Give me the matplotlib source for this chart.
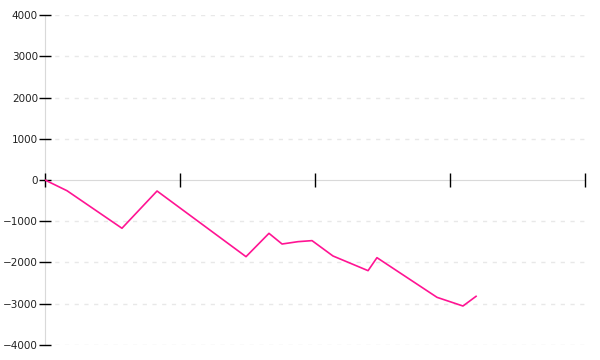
import numpy as np
import matplotlib
matplotlib.use('Agg')
import matplotlib.pyplot as plt

# series (x in tick units, y values)
x_vals = [0.0, 0.163, 0.570, 0.830, 1.489, 1.659, 1.756, 1.874, 1.978,
          2.133, 2.393, 2.459, 2.904, 3.096, 3.193]
y_vals = [0, -260, -1170, -267, -1859, -1293, -1552, -1495, -1470,
          -1842, -2198, -1883, -2845, -3055, -2820]
y_ticks = [-4000, -3000, -2000, -1000, 0, 1000, 2000, 3000, 4000]
x_ticks = [0, 1, 2, 3, 4]

fig = plt.figure(figsize=(6, 3.6), dpi=100)
ax = fig.add_axes([0.075, 0.0417, 0.9, 0.9166])

# dashed horizontal grid
for yv in y_ticks:
    if yv != 0:
        ax.axhline(yv, color='#e8e8e8', lw=1, ls=(0, (3, 4)), zorder=0)

ax.plot(x_vals, y_vals, color='#ff1493', lw=1.2, zorder=3)

ax.set_xlim(0, 4)
ax.set_ylim(-4000, 4000)
ax.set_yticks(y_ticks)
ax.set_yticklabels([str(v).replace('-', '\u2212') for v in y_ticks])
ax.set_xticks(x_ticks)
ax.set_xticklabels([])

for s in ['top', 'right']:
    ax.spines[s].set_visible(False)
ax.spines['left'].set_color('#d9d9d9')
ax.spines['bottom'].set_color('#d9d9d9')
ax.spines['bottom'].set_position(('data', 0))
ax.spines['left'].set_zorder(0.5)
ax.spines['bottom'].set_zorder(0.5)

ax.tick_params(axis='y', direction='inout', length=8, width=1, color='black',
               labelsize=7.5, labelcolor='#222222', pad=1)
ax.tick_params(axis='x', direction='inout', length=10, width=1, color='black')

fig.savefig('out.png', dpi=100)
